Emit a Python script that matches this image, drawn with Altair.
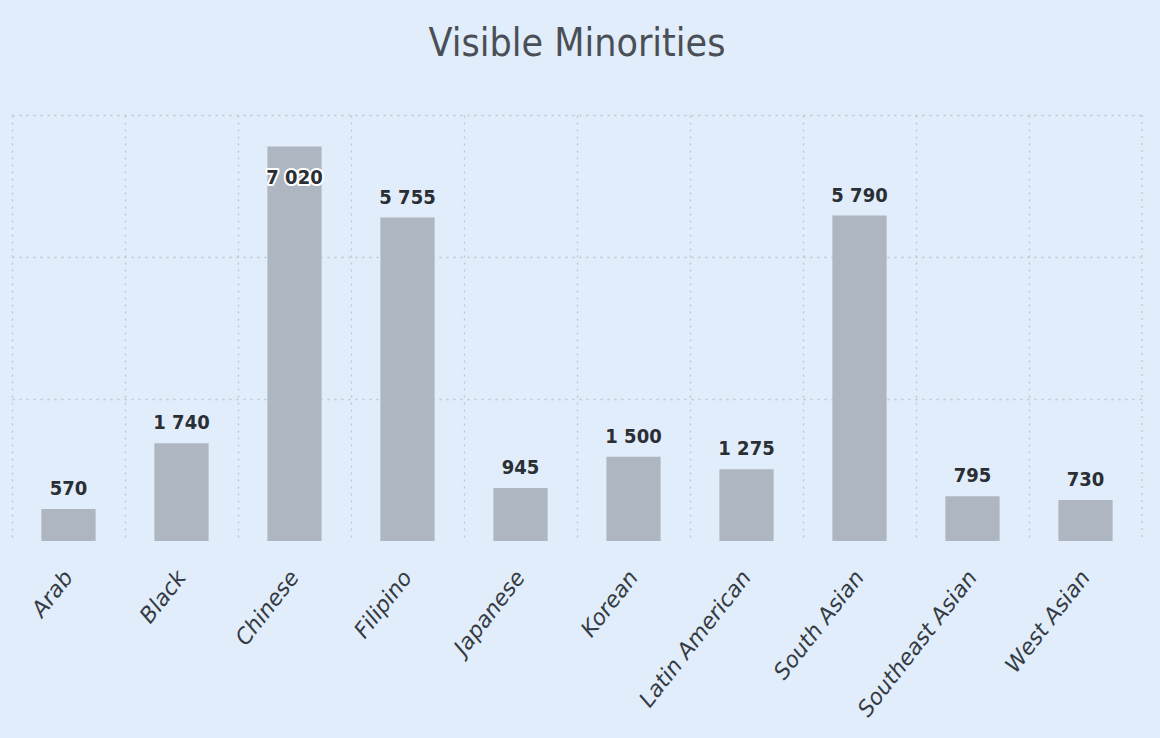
import altair as alt
import pandas as pd

categories = ["Arab", "Black", "Chinese", "Filipino", "Japanese", "Korean",
              "Latin American", "South Asian", "Southeast Asian", "West Asian"]
values = [570, 1740, 7020, 5755, 945, 1500, 1275, 5790, 795, 730]

Y_MAX = 7580
df = pd.DataFrame({"category": categories, "value": values})
df["label"] = [f"{v:,}".replace(",", " ") for v in values]
df["inside"] = df["value"] > 0.9 * Y_MAX

W, H = 1130, 426
GRID = "#bcc6d2"
COND = "DejaVu Sans Condensed, DejaVu Sans"

x = alt.X("category:N", sort=categories, title=None,
          scale=alt.Scale(paddingInner=0, paddingOuter=0),
          axis=alt.Axis(labelAngle=-52, labelAlign="right", labelBaseline="middle",
                        labelFontSize=22, labelFontStyle="oblique", labelFont="DejaVu Sans",
                        labelColor="#353b43", labelPadding=32, ticks=False, domain=False,
                        grid=True, bandPosition=0, gridDash=[2, 5], gridColor=GRID,
                        gridWidth=1.3))
y = alt.Y("value:Q", title=None,
          scale=alt.Scale(domain=[0, Y_MAX], nice=False),
          axis=alt.Axis(values=[Y_MAX / 3, 2 * Y_MAX / 3, Y_MAX], labels=False, ticks=False,
                        domain=False, grid=True, gridDash=[2, 5], gridColor=GRID,
                        gridWidth=1.3))

base = alt.Chart(df)
bars = base.mark_bar(color="#AEB6C1", width=alt.RelativeBandSize(0.48)).encode(x=x, y=y)

text_style = dict(baseline="alphabetic", fontWeight="bold", fontSize=20, font=COND)
outside = base.transform_filter("!datum.inside").mark_text(
    dy=-14, color="#2a2e35", **text_style).encode(x=x, y=y, text="label:N")
inside_halo = base.transform_filter("datum.inside").mark_text(
    dy=38, color="white", stroke="white", strokeWidth=4, strokeJoin="round",
    **text_style).encode(x=x, y=y, text="label:N")
inside = base.transform_filter("datum.inside").mark_text(
    dy=38, color="#2a2e35", **text_style).encode(x=x, y=y, text="label:N")

edge = alt.Chart(pd.DataFrame({"e": [0]})).mark_rule(
    strokeDash=[2, 5], color=GRID, strokeWidth=1.3).encode(
    x=alt.value(W), y=alt.value(0), y2=alt.value(H))

chart = alt.layer(bars, edge, outside, inside_halo, inside).properties(
    width=W, height=H,
    title=alt.TitleParams("Visible Minorities", fontSize=39, font=COND,
                          fontWeight="normal", color="#4a4f57", anchor="middle",
                          offset=50),
    autosize=alt.AutoSizeParams(type="none"),
    padding={"left": 12, "top": 115, "right": 18, "bottom": 197},
).configure(background="#E1EDFA").configure_view(stroke=None)

chart.save("out.html", embed_options={"renderer": "svg", "actions": False})
